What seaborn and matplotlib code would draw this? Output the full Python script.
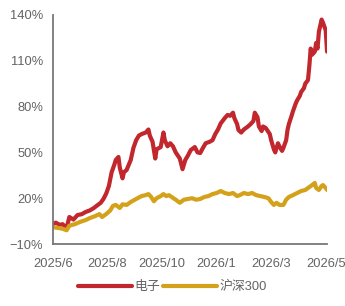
import matplotlib
matplotlib.use("Agg")
import matplotlib.pyplot as plt
import numpy as np
import pandas as pd
import seaborn as sns

# trading-day index and cumulative return (%)
dianzi_day = [0, 2, 5, 7, 10, 12, 15, 18, 21, 24, 27, 30, 32, 35, 37, 39, 41, 43, 45, 46,
              48, 49, 51, 52, 54, 57, 59, 61, 63, 65, 68, 70, 71, 73, 75, 76, 79, 81, 82, 84,
              86, 88, 90, 93, 95, 97, 99, 101, 104, 106, 108, 110, 112, 115, 117, 119, 121, 123, 126, 128,
              130, 132, 133, 135, 136, 138, 140, 143, 145, 147, 148, 150, 151, 153, 154, 156, 157, 159, 160, 162,
              163, 165, 166, 168, 169, 171, 172, 173, 175, 176, 178, 179, 181, 182, 184, 185, 187, 188, 189, 190,
              192, 193, 194, 195, 197, 198, 200, 201]
dianzi_val = [3, 4, 2.5, 3, 0.5, 7.7, 6, 9, 9.5, 11, 12, 13.6, 15, 17, 19.5, 23, 28, 37, 42, 45,
              47, 40, 33, 37, 38.5, 45, 53, 58, 61, 62, 63, 65, 61, 57, 46, 52, 53.5, 63, 58, 54,
              56, 54, 50, 46, 39, 45, 48, 51.5, 53.5, 50, 49.6, 53, 56, 57, 58, 62, 65, 69, 72.5, 74.5,
              74, 76, 72.5, 68.6, 64.7, 63, 65, 67, 68.6, 70.6, 76, 73, 67, 64, 67, 66, 64.7, 62, 58, 52,
              50, 56, 54, 51, 53, 58, 64.7, 68.6, 74, 77, 82, 84, 87, 89.6, 92, 95, 97.4, 106.6, 118, 114,
              116, 121.7, 118, 129, 137, 135, 130, 116]

hs300_day = [0, 4, 7, 10, 12, 16, 20, 24, 27, 31, 34, 36, 39, 42, 44, 46, 49, 51, 54, 57,
             60, 62, 65, 68, 70, 72, 74, 76, 79, 81, 83, 85, 87, 90, 93, 96, 99, 102, 105, 108,
             111, 114, 117, 120, 123, 126, 129, 132, 135, 137, 140, 143, 146, 149, 152, 155, 158, 160, 162, 164,
             166, 169, 171, 173, 176, 179, 182, 185, 188, 190, 192, 193, 195, 197, 198, 200, 201]
hs300_val = [1, 0.5, 0, -1, 2, 3, 4.5, 5.7, 7, 8.3, 9.6, 7.7, 9.6, 12, 15, 15.6, 13.6, 16, 15.6, 17.5,
             19, 20, 21.4, 22, 22.7, 20.8, 18, 20, 21.4, 22.7, 21.4, 22, 20.8, 19, 17, 19, 19.5, 20, 19, 19.5,
             20.8, 21.4, 22.7, 23.4, 24.7, 23.4, 22.7, 23.4, 21.4, 22, 23.4, 22.7, 23.4, 22, 21.4, 20.8, 20, 17.5, 15.6, 17,
             15.6, 15.6, 19, 20.8, 22, 23.4, 24.7, 25.4, 27.3, 28.6, 30, 26.7, 25.4, 28, 28.6, 26.7, 25.4]

tick_days = [0, 40, 80, 120, 160, 200]
tick_labels = ["2025/6", "2025/8", "2025/10", "2026/1", "2026/3", "2026/5"]
y_ticks = [-10, 20, 50, 80, 110, 140]

red = "#C1272D"
gold = "#D4A21A"
grey = "#636363"

sns.set_style("white")
plt.rcParams["font.family"] = ["Liberation Sans", "Noto Sans CJK SC", "DejaVu Sans"]

df1 = pd.DataFrame({"day": dianzi_day, "val": dianzi_val})
df2 = pd.DataFrame({"day": hs300_day, "val": hs300_val})

fig = plt.figure(figsize=(3.45, 3.06), dpi=100)
ax = fig.add_axes([0.1536, 0.2026, 0.7944, 0.7484])

sns.lineplot(data=df1, x="day", y="val", color=red, linewidth=1.9, ax=ax, label="电子")
sns.lineplot(data=df2, x="day", y="val", color=gold, linewidth=1.9, ax=ax, label="沪深300")

ax.set_xlim(0, 201)
ax.set_ylim(-10, 140)
ax.set_xticks(tick_days)
ax.set_xticklabels(tick_labels)
ax.set_yticks(y_ticks)
ax.set_yticklabels([f"{v}%".replace("-", "\u2212") for v in y_ticks])
ax.set_xlabel("")
ax.set_ylabel("")

for s in ["top", "right"]:
    ax.spines[s].set_visible(False)
for s in ["left", "bottom"]:
    ax.spines[s].set_color("#777777")
    ax.spines[s].set_linewidth(1.3)
ax.tick_params(axis="both", direction="out", length=4, width=1.2, color="#777777",
               labelsize=9.3, labelcolor=grey, pad=3)
ax.tick_params(axis="x", pad=6)

ax.get_legend().remove()
handles, labels = ax.get_legend_handles_labels()
for h in handles:
    h.set_linewidth(3)
fig.legend(handles, labels, loc="center", bbox_to_anchor=(0.5, 0.062), ncol=2,
           frameon=False, handlelength=4.2, handletextpad=0.2, columnspacing=0.2,
           prop={"size": 9.3}, labelcolor=grey)

fig.savefig("out.png", dpi=100)
